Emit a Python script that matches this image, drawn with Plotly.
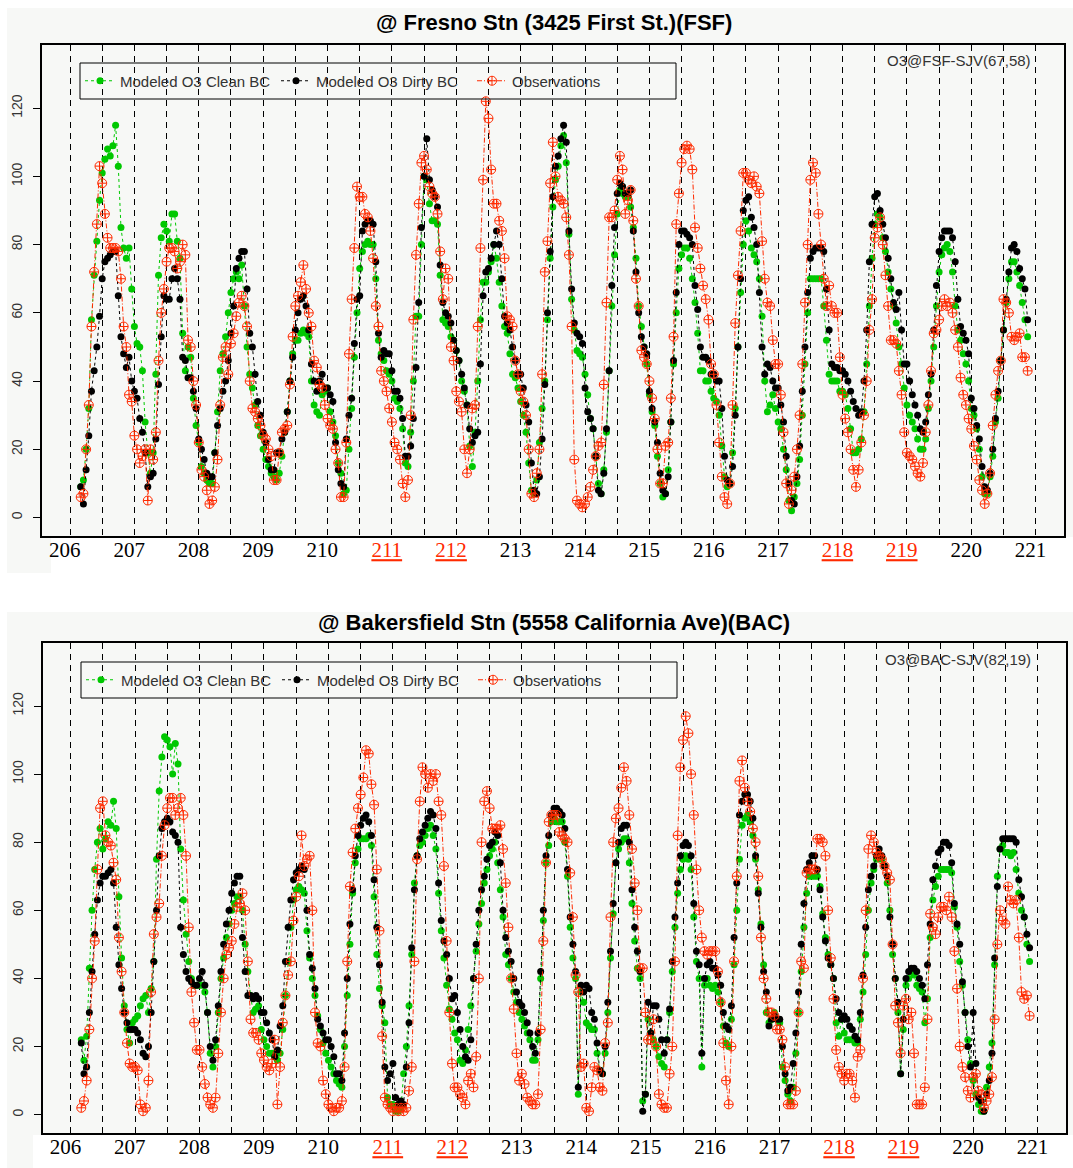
import numpy as np
import plotly.graph_objects as go

W, H = 1073, 1168

# ---------------------------------------------------------------------------
# Axis labels / categories
# ---------------------------------------------------------------------------
DAYS = list(range(206, 222))
RED_DAYS = {211, 212, 218, 219}
Y_TICKS = [0, 20, 40, 60, 80, 100, 120]

# hourly samples: day 206 04:00 through day 220 21:00
HOURS = list(range(4, 358))

# ---------------------------------------------------------------------------
# Fresno (FSF) hourly O3, ppb
# ---------------------------------------------------------------------------
FSF_CLEAN = [
    9, 11, 20, 32, 58, 71, 81, 93, 101, 105, 108, 106, 109, 115, 103, 85, 79, 76, 79, 67,
    56, 51, 50, 43, 28, 19, 13, 19, 42, 71, 82, 86, 84, 81, 89, 89, 81, 76, 54, 43, 50, 47, 35, 27,
    22, 15, 13, 11, 10, 10, 19, 31, 43, 48, 53, 60, 66, 70, 72, 70, 74, 62, 50, 42, 38, 33, 27, 24,
    20, 17, 15, 13, 12, 11, 13, 18, 25, 31, 40, 48, 52, 52, 54, 55, 54, 53, 40, 33, 31, 30, 36, 37,
    38, 31, 28, 24, 16, 13, 7, 8, 20, 32, 47, 60, 73, 78, 80, 81, 80, 80, 70, 52, 48, 46, 43, 42,
    40, 35, 34, 32, 26, 16, 15, 25, 40, 59, 59, 80, 100, 99, 92, 87, 87, 86, 71, 58, 57, 56, 53, 52,
    49, 46, 40, 37, 33, 21, 15, 25, 40, 58, 69, 69, 72, 75, 80, 76, 69, 62, 56, 54, 48, 42, 41, 38,
    34, 30, 25, 16, 8, 7, 11, 22, 32, 40, 58, 76, 91, 99, 103, 109, 112, 104, 83, 64, 55, 49, 48, 47,
    42, 36, 29, 26, 18, 10, 7, 14, 25, 43, 62, 77, 89, 96, 95, 94, 94, 91, 85, 76, 62, 56, 50, 45,
    36, 31, 27, 18, 10, 6, 7, 14, 28, 45, 60, 73, 77, 79, 79, 76, 70, 63, 54, 43, 43, 40, 40, 37,
    35, 34, 30, 21, 12, 9, 10, 19, 32, 50, 66, 80, 87, 84, 79, 77, 75, 70, 59, 40, 31, 33, 36, 32,
    28, 26, 20, 14, 5, 2, 6, 10, 17, 30, 45, 60, 70, 70, 70, 70, 70, 62, 52, 42, 40, 40, 40, 37,
    37, 36, 32, 26, 19, 19, 20, 23, 31, 45, 62, 76, 86, 89, 88, 82, 78, 72, 67, 62, 57, 50, 45, 38,
    33, 30, 28, 26, 23, 20, 20, 23, 32, 40, 50, 62, 72, 77, 79, 80, 78, 72, 62, 55, 52, 48, 45, 40,
    32, 30, 26, 20, 12, 7, 7, 12, 18, 28, 35, 46, 55, 63, 70, 75, 75, 72, 68, 63, 58, 53,
]
FSF_DIRTY = [
    9, 4, 14, 24, 37, 43, 50, 59, 70, 75, 76, 77, 78, 78, 65, 53, 48, 44, 47, 40,
    37, 35, 29, 25, 19, 9, 12, 13, 23, 39, 53, 65, 64, 64, 70, 73, 70, 64, 47, 46, 41, 41, 37, 32,
    23, 20, 17, 13, 12, 12, 19, 27, 32, 37, 40, 46, 54, 62, 73, 76, 78, 78, 67, 54, 50, 42, 34, 30,
    25, 22, 17, 14, 14, 19, 19, 23, 25, 31, 40, 47, 55, 60, 64, 65, 62, 55, 45, 40, 37, 40, 42, 38,
    38, 36, 34, 22, 14, 10, 9, 23, 30, 35, 51, 64, 65, 84, 86, 87, 87, 86, 75, 54, 47, 49, 48, 48,
    43, 37, 37, 35, 29, 18, 18, 21, 29, 44, 63, 85, 100, 111, 99, 96, 94, 91, 74, 63, 60, 59, 57, 52,
    49, 46, 42, 38, 33, 26, 22, 24, 25, 45, 65, 72, 73, 76, 80, 84, 80, 70, 59, 57, 55, 50, 46, 42,
    42, 38, 33, 28, 16, 8, 7, 12, 23, 39, 60, 78, 94, 103, 106, 111, 115, 110, 84, 67, 57, 54, 53, 51,
    38, 31, 29, 26, 18, 8, 7, 13, 26, 43, 68, 85, 95, 98, 97, 95, 95, 96, 84, 72, 60, 53, 50, 48,
    37, 32, 28, 22, 13, 8, 7, 12, 28, 46, 66, 80, 84, 84, 83, 82, 80, 68, 61, 50, 47, 47, 46, 42,
    42, 40, 40, 32, 18, 11, 10, 15, 30, 50, 70, 90, 93, 94, 88, 85, 80, 66, 50, 42, 45, 44, 40, 38,
    38, 33, 28, 18, 10, 5, 4, 12, 21, 37, 50, 66, 76, 78, 79, 79, 79, 78, 67, 55, 45, 44, 44, 43,
    43, 42, 40, 37, 34, 32, 30, 31, 40, 55, 75, 86, 94, 95, 90, 86, 82, 76, 70, 63, 61, 66, 55, 45,
    45, 40, 36, 33, 30, 26, 25, 28, 36, 42, 55, 68, 78, 82, 84, 84, 84, 82, 75, 64, 56, 54, 52, 48,
    35, 32, 27, 23, 15, 9, 8, 13, 20, 29, 37, 46, 55, 64, 72, 79, 80, 78, 73, 70, 67, 58,
]
FSF_OBS = [
    6, 7, 20, 33, 56, 72, 86, 103, 98, 89, 82, 79, 79, 79, 78, 70, 56, 50, 36, 34,
    24, 20, 16, 18, 20, 5, 20, 17, 25, 46, 60, 67, 75, 79, 79, 78, 73, 75, 80, 77, 52, 50, 40, 33,
    22, 14, 12, 8, 4, 5, 9, 17, 33, 47, 50, 42, 51, 54, 59, 63, 65, 62, 56, 40, 32, 31, 29, 27,
    24, 23, 20, 18, 11, 11, 19, 25, 26, 27, 39, 53, 62, 65, 69, 74, 67, 60, 56, 46, 44, 39, 38, 33,
    29, 27, 26, 20, 16, 6, 6, 22, 48, 64, 79, 97, 94, 94, 89, 88, 84, 76, 62, 56, 43, 40, 37, 32,
    28, 22, 20, 17, 10, 6, 11, 30, 58, 77, 92, 104, 106, 102, 97, 95, 94, 89, 78, 64, 73, 70, 50, 46,
    37, 34, 31, 20, 13, 20, 32, 33, 56, 79, 99, 122, 117, 102, 92, 92, 87, 84, 76, 59, 58, 56, 46, 42,
    37, 34, 30, 20, 7, 6, 13, 20, 42, 72, 81, 98, 110, 100, 94, 93, 92, 88, 77, 56, 17, 5, 4, 3,
    4, 6, 9, 14, 18, 21, 22, 39, 63, 88, 88, 90, 99, 106, 102, 89, 93, 96, 87, 70, 62, 49, 47, 45,
    40, 35, 29, 20, 10, 10, 21, 22, 35, 53, 86, 95, 104, 108, 109, 108, 102, 85, 79, 73, 68, 64, 58, 45,
    42, 33, 22, 12, 6, 4, 10, 33, 57, 71, 84, 101, 101, 99, 98, 100, 97, 95, 81, 70, 63, 62, 52, 45,
    45, 36, 25, 10, 4, 8, 12, 20, 30, 45, 63, 80, 99, 104, 101, 89, 80, 70, 62, 68, 62, 60, 60, 47,
    36, 29, 25, 20, 14, 9, 14, 22, 30, 40, 55, 64, 82, 85, 88, 80, 71, 62, 52, 52, 51, 43, 36, 25,
    19, 18, 17, 15, 13, 12, 16, 25, 33, 43, 54, 55, 58, 62, 64, 62, 63, 60, 55, 50, 41, 36, 33, 29,
    26, 21, 17, 11, 8, 4, 7, 13, 27, 36, 43, 46, 64, 63, 60, 53, 52, 53, 54, 47, 47, 43,
]

# ---------------------------------------------------------------------------
# Bakersfield (BAC) hourly O3, ppb
# ---------------------------------------------------------------------------
BAC_CLEAN = [
    22, 16, 23, 43, 60, 72, 80, 84, 78, 81, 86, 85, 92, 84, 64, 46, 32, 25, 21, 27,
    28, 29, 32, 34, 35, 30, 37, 45, 75, 95, 105, 111, 110, 108, 100, 109, 103, 78, 63, 53, 45, 40, 38, 38,
    38, 38, 36, 30, 18, 14, 20, 30, 40, 46, 52, 56, 60, 62, 64, 64, 60, 50, 42, 35, 30, 31, 32, 25,
    22, 20, 18, 18, 17, 16, 18, 25, 35, 45, 55, 63, 66, 67, 66, 65, 54, 46, 40, 35, 29, 25, 21, 18,
    16, 14, 12, 10, 9, 8, 20, 35, 50, 65, 74, 78, 81, 81, 81, 82, 79, 64, 47, 37, 32, 27, 5, 3,
    3, 1, 1, 2, 12, 20, 32, 47, 68, 76, 79, 80, 82, 84, 85, 82, 78, 65, 54, 46, 38, 31, 28, 24,
    22, 16, 15, 19, 25, 32, 40, 48, 56, 62, 68, 72, 76, 78, 80, 74, 66, 58, 47, 44, 40, 36, 33, 30,
    28, 26, 24, 22, 16, 16, 22, 40, 57, 74, 79, 86, 87, 86, 86, 86, 80, 70, 55, 46, 40, 6, 36, 33,
    27, 26, 25, 25, 18, 13, 12, 18, 30, 46, 59, 74, 78, 80, 81, 81, 74, 62, 51, 43, 40, 4, 6, 28,
    24, 22, 20, 17, 15, 14, 22, 30, 42, 55, 65, 72, 75, 76, 75, 72, 58, 45, 40, 14, 38, 40, 38, 37,
    38, 36, 33, 26, 21, 20, 28, 44, 60, 75, 85, 87, 88, 86, 82, 75, 66, 56, 44, 30, 27, 28, 30, 28,
    27, 14, 10, 6, 4, 8, 18, 30, 42, 55, 65, 70, 70, 70, 70, 67, 59, 52, 47, 44, 40, 27, 23, 28,
    24, 22, 22, 22, 21, 21, 28, 36, 47, 60, 68, 72, 75, 76, 75, 73, 68, 60, 47, 40, 30, 12, 25, 38,
    40, 42, 41, 38, 37, 36, 27, 34, 52, 63, 67, 70, 72, 72, 72, 72, 71, 61, 55, 45, 38, 30, 22, 15,
    10, 6, 3, 1, 1, 8, 14, 21, 44, 70, 78, 79, 77, 77, 76, 77, 72, 65, 60, 58, 50, 45,
]
BAC_DIRTY = [
    21, 12, 14, 30, 42, 53, 63, 68, 70, 70, 71, 72, 68, 55, 44, 37, 30, 27, 25, 25,
    25, 24, 22, 18, 17, 20, 30, 45, 60, 76, 84, 86, 87, 86, 83, 82, 80, 55, 47, 42, 40, 39, 38, 38,
    40, 42, 38, 30, 20, 16, 22, 32, 42, 50, 56, 60, 65, 68, 70, 70, 52, 42, 35, 35, 34, 35, 34, 30,
    30, 27, 24, 22, 17, 19, 26, 32, 45, 55, 63, 69, 71, 72, 73, 72, 60, 47, 43, 37, 28, 26, 24, 22,
    22, 20, 17, 12, 12, 10, 24, 40, 56, 66, 76, 82, 85, 87, 88, 86, 82, 69, 55, 44, 33, 14, 10, 12,
    15, 5, 3, 4, 3, 14, 27, 49, 66, 76, 81, 83, 85, 87, 89, 88, 84, 68, 57, 51, 47, 40, 34, 35,
    30, 25, 20, 17, 16, 22, 40, 50, 60, 66, 70, 75, 79, 80, 83, 82, 74, 60, 52, 48, 45, 40, 36, 33,
    32, 30, 27, 24, 20, 18, 24, 42, 60, 76, 82, 88, 90, 90, 89, 88, 84, 72, 58, 50, 42, 8, 38, 36,
    38, 37, 30, 28, 21, 13, 12, 20, 33, 48, 62, 74, 80, 84, 85, 85, 80, 66, 55, 48, 42, 1, 6, 33,
    24, 32, 32, 28, 22, 18, 22, 31, 45, 58, 68, 76, 79, 80, 79, 76, 62, 48, 44, 18, 40, 44, 45, 43,
    43, 41, 38, 30, 26, 25, 32, 52, 68, 88, 92, 94, 94, 92, 87, 76, 65, 55, 42, 36, 26, 28, 29, 28,
    28, 20, 12, 7, 8, 15, 24, 36, 50, 62, 72, 74, 76, 76, 72, 66, 58, 51, 46, 44, 40, 34, 30, 28,
    29, 28, 26, 25, 23, 22, 30, 41, 55, 66, 70, 73, 76, 78, 76, 73, 70, 58, 50, 40, 33, 12, 28, 40,
    42, 43, 43, 42, 40, 38, 34, 44, 56, 69, 73, 77, 78, 80, 80, 79, 74, 62, 56, 50, 39, 30, 20, 14,
    30, 15, 5, 4, 1, 6, 10, 18, 46, 67, 78, 81, 81, 81, 81, 81, 80, 69, 64, 58, 53, 49,
]
BAC_OBS = [
    2, 4, 10, 25, 40, 51, 72, 90, 92, 82, 80, 79, 74, 69, 52, 42, 30, 21, 15, 14,
    14, 13, 3, 1, 2, 10, 36, 53, 58, 62, 76, 85, 90, 93, 93, 88, 90, 93, 88, 76, 55, 36, 27, 19,
    19, 14, 9, 5, 3, 2, 5, 18, 30, 40, 47, 49, 51, 56, 61, 62, 65, 60, 45, 28, 24, 24, 22, 18,
    16, 14, 13, 15, 22, 3, 14, 27, 35, 41, 45, 57, 64, 70, 82, 73, 75, 76, 60, 30, 21, 20, 10, 6,
    3, 2, 1, 2, 2, 4, 14, 45, 67, 77, 84, 90, 94, 99, 107, 106, 97, 91, 72, 54, 23, 5, 3, 2,
    1, 2, 1, 2, 1, 2, 7, 14, 45, 75, 92, 102, 100, 96, 100, 98, 100, 92, 88, 73, 51, 30, 15, 8,
    8, 6, 5, 3, 10, 12, 8, 17, 40, 80, 92, 95, 90, 84, 84, 84, 85, 78, 68, 55, 40, 31, 18, 10,
    12, 9, 5, 4, 3, 3, 6, 25, 51, 74, 86, 88, 88, 88, 83, 82, 81, 80, 71, 58, 41, 36, 14, 15,
    2, 1, 8, 14, 13, 8, 7, 21, 27, 58, 80, 87, 90, 96, 102, 98, 88, 78, 68, 60, 43, 43, 30, 22,
    22, 28, 20, 6, 3, 2, 2, 12, 20, 45, 82, 102, 110, 117, 112, 100, 88, 72, 60, 52, 48, 47, 48, 48,
    48, 42, 33, 21, 10, 3, 20, 45, 70, 98, 104, 96, 92, 89, 84, 80, 70, 52, 40, 34, 30, 30, 29, 25,
    25, 22, 14, 3, 3, 3, 7, 30, 45, 43, 71, 72, 72, 72, 81, 81, 80, 76, 60, 46, 34, 19, 14, 12,
    10, 12, 12, 10, 5, 17, 19, 40, 60, 78, 82, 80, 77, 76, 75, 73, 71, 69, 50, 32, 27, 18, 32, 34,
    28, 30, 18, 3, 3, 3, 8, 28, 59, 55, 53, 58, 61, 61, 60, 64, 58, 48, 37, 20, 14, 11, 7, 5,
    11, 12, 7, 6, 2, 4, 6, 11, 28, 50, 60, 57, 56, 67, 63, 62, 63, 52, 36, 34, 35, 29,
]

PANELS = [
    dict(title="@ Fresno Stn (3425 First St.)(FSF)", tag="O3@FSF-SJV(67,58)",
         clean=FSF_CLEAN, dirty=FSF_DIRTY, obs=FSF_OBS),
    dict(title="@ Bakersfield Stn (5558 California Ave)(BAC)", tag="O3@BAC-SJV(82,19)",
         clean=BAC_CLEAN, dirty=BAC_DIRTY, obs=BAC_OBS),
]

# ---------------------------------------------------------------------------
# Layout geometry (pixels)
# ---------------------------------------------------------------------------
GREEN, BLACK, RED = "#00c800", "#000000", "#ff2a00"
PANEL_BG = "#f7f8f6"
BOXES = [  # plot frame: left, right, top, bottom
    (42, 1064, 45, 536),
    (42.5, 1066, 643, 1133),
]
TITLE_Y = [22, 622]
LEGEND_BOX = [(80, 676, 63, 99), (81, 677, 662, 698)]
TAG_Y = [61, 659]
X_RANGE = [205.565, 221.44]
Y_RANGE = [-5.4, 138.5]
LABEL_SHIFT = -0.08   # day labels sit slightly left of the day boundary


def fx(px):
    return px / W


def fy(py):
    return 1 - py / H


time = [206 + h / 24 for h in HOURS]

fig = go.Figure()
shapes, annotations = [], []

# light grey card behind each panel
shapes += [
    dict(type="rect", xref="paper", yref="paper", x0=fx(7), x1=1, y0=fy(537), y1=fy(8),
         fillcolor=PANEL_BG, line_width=0, layer="below"),
    dict(type="rect", xref="paper", yref="paper", x0=fx(7), x1=fx(51), y0=fy(573), y1=fy(537),
         fillcolor=PANEL_BG, line_width=0, layer="below"),
    dict(type="rect", xref="paper", yref="paper", x0=fx(7), x1=1, y0=fy(1135), y1=fy(612),
         fillcolor=PANEL_BG, line_width=0, layer="below"),
    dict(type="rect", xref="paper", yref="paper", x0=fx(7), x1=fx(33), y0=0, y1=fy(1135),
         fillcolor=PANEL_BG, line_width=0, layer="below"),
]

ticktext = []
for d in DAYS:
    if d in RED_DAYS:
        ticktext.append(f"<span style='color:{RED}'><u>{d}</u></span>")
    else:
        ticktext.append(str(d))
label_pos = [d + LABEL_SHIFT for d in DAYS]
boundaries = [d + 0.5 * k for d in DAYS[:-1] for k in (0, 1)] + [DAYS[-1]]
grid_dash = "6px,5px"

for i, p in enumerate(PANELS):
    n = "" if i == 0 else str(i + 1)
    xa, ya = "x" + n, "y" + n
    leg = "legend" + n
    series = [
        ("Modeled O3 Clean BC", p["clean"], GREEN, "3px,3px",
         dict(symbol="circle", size=7, color=GREEN)),
        ("Modeled O3 Dirty BC", p["dirty"], BLACK, "3px,3px",
         dict(symbol="circle", size=7, color=BLACK)),
        ("Observations", p["obs"], RED, "5px,2px,1px,2px",
         dict(symbol="circle-cross-open", size=9, color=RED, line=dict(width=1, color=RED))),
    ]
    for name, vals, col, dash, mk in series:
        fig.add_trace(go.Scatter(
            x=time, y=vals, mode="lines+markers", name=name,
            line=dict(color=col, width=1, dash=dash), marker=mk,
            xaxis=xa, yaxis=ya, legend=leg, showlegend=True,
        ))

    l, r, t, b = BOXES[i]
    axis_common = dict(showline=True, mirror=True, linecolor="black", linewidth=2, zeroline=False)
    fig.update_layout(**{
        ("xaxis" + n): dict(
            domain=[fx(l), fx(r)], range=X_RANGE, anchor=ya,
            tickmode="array", tickvals=label_pos, ticktext=ticktext, ticks="",
            ticklabelstandoff=-6,
            tickfont=dict(family="Liberation Serif", size=21, color="black"),
            showgrid=False,
            minor=dict(tickmode="array", tickvals=boundaries, showgrid=True,
                       gridcolor="black", gridwidth=1, griddash=grid_dash, ticks=""),
            **axis_common),
        ("yaxis" + n): dict(
            domain=[fy(b), fy(t)], range=Y_RANGE, anchor=xa,
            tickmode="array", tickvals=Y_TICKS, ticks="outside", ticklen=7,
            tickwidth=1, tickcolor="black", tickangle=-90, ticklabelstandoff=5,
            tickfont=dict(family="Liberation Sans", size=14, color="#333333"),
            showgrid=False, **axis_common),
        leg: dict(
            orientation="h", x=fx(LEGEND_BOX[i][0]), xanchor="left",
            y=fy((LEGEND_BOX[i][2] + LEGEND_BOX[i][3]) / 2), yanchor="middle",
            bgcolor="rgba(0,0,0,0)", borderwidth=0,
            entrywidth=151, entrywidthmode="pixels",
            font=dict(family="Liberation Sans", size=15, color="#333333"),
        ),
    })

    lb = LEGEND_BOX[i]
    shapes.append(dict(type="rect", xref="paper", yref="paper",
                       x0=fx(lb[0]), x1=fx(lb[1]), y0=fy(lb[3]), y1=fy(lb[2]),
                       line=dict(color="black", width=1), fillcolor="rgba(0,0,0,0)",
                       layer="above"))
    annotations.append(dict(
        text=f"<b>{p['title']}</b>", xref="paper", yref="paper",
        x=fx(554), y=fy(TITLE_Y[i]), xanchor="center", yanchor="middle", showarrow=False,
        font=dict(family="Liberation Sans", size=22, color="black")))
    annotations.append(dict(
        text=p["tag"], xref="paper", yref="paper",
        x=fx(1033), y=fy(TAG_Y[i]), xanchor="right", yanchor="middle", showarrow=False,
        font=dict(family="Liberation Sans", size=15, color="#333333")))

fig.update_layout(
    width=W, height=H, margin=dict(l=0, r=0, t=0, b=0),
    paper_bgcolor="white", plot_bgcolor=PANEL_BG,
    shapes=shapes, annotations=annotations,
)

fig.write_html("out.html")
